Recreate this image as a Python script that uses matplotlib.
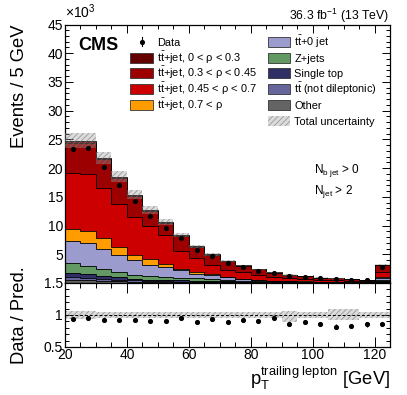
import numpy as np
import matplotlib
matplotlib.use("Agg")
import matplotlib.pyplot as plt
from matplotlib.patches import Rectangle
from matplotlib.lines import Line2D
from matplotlib.ticker import MultipleLocator, FixedLocator, FuncFormatter

plt.rcParams['font.family'] = ['Liberation Sans', 'DejaVu Sans']
plt.rcParams['mathtext.fontset'] = 'custom'
plt.rcParams['mathtext.rm'] = 'Liberation Sans'
plt.rcParams['mathtext.it'] = 'Liberation Sans:italic'
plt.rcParams['mathtext.bf'] = 'Liberation Sans:bold'
plt.rcParams['hatch.linewidth'] = 0.5

# ---------------- data (events in units of 10^3 per 5 GeV bin) ----------------
bin_edges = [20, 25, 30, 35, 40, 45, 50, 55, 60, 65, 70, 75, 80, 85, 90, 95,
             100, 105, 110, 115, 120, 125]
other      = [0.50, 0.45, 0.38, 0.30, 0.25, 0.20, 0.17, 0.15, 0.13, 0.10, 0.09,
              0.07, 0.06, 0.05, 0.04, 0.03, 0.025, 0.02, 0.018, 0.015, 0.10]
tt_notdil  = [0.50, 0.40, 0.32, 0.25, 0.20, 0.15, 0.13, 0.10, 0.09, 0.08, 0.06,
              0.05, 0.04, 0.03, 0.02, 0.02, 0.015, 0.015, 0.012, 0.01, 0.07]
single_top = [0.80, 0.75, 0.60, 0.45, 0.30, 0.25, 0.20, 0.20, 0.18, 0.15, 0.12,
              0.10, 0.07, 0.06, 0.05, 0.04, 0.03, 0.025, 0.02, 0.015, 0.13]
zjets      = [1.60, 1.40, 1.20, 0.90, 0.70, 0.60, 0.50, 0.50, 0.40, 0.32, 0.23,
              0.16, 0.13, 0.10, 0.08, 0.07, 0.06, 0.05, 0.04, 0.03, 0.25]
tt_0jet    = [3.90, 3.90, 3.50, 3.00, 2.50, 2.00, 1.70, 1.25, 0.80, 0.80, 0.50,
              0.32, 0.22, 0.16, 0.12, 0.09, 0.07, 0.06, 0.05, 0.04, 0.40]
ttj_rho4   = [2.10, 2.20, 1.90, 1.40, 0.95, 0.90, 0.60, 0.30, 0.30, 0.10, 0.05,
              0.05, 0.03, 0.02, 0.02, 0.02, 0.01, 0.01, 0.01, 0.01, 0.10]   # 0.7 < rho
ttj_rho3   = [9.80, 9.90, 8.60, 7.40, 6.60, 5.80, 5.00, 3.10, 2.45, 1.52, 1.25,
              1.15, 0.88, 0.68, 0.52, 0.43, 0.34, 0.29, 0.25, 0.20, 0.85]   # 0.45-0.7
ttj_rho2   = [5.25, 5.45, 5.00, 4.55, 3.65, 2.60, 2.12, 2.57, 1.95, 1.85, 1.54,
              1.10, 0.93, 0.72, 0.58, 0.48, 0.385, 0.32, 0.29, 0.22, 1.25]  # 0.3-0.45
ttj_rho1   = [0.35, 0.35, 0.30, 0.25, 0.20, 0.20, 0.18, 0.13, 0.10, 0.08, 0.06,
              0.05, 0.04, 0.03, 0.02, 0.02, 0.015, 0.01, 0.01, 0.01, 0.05]  # 0-0.3
data       = [23.24, 23.45, 20.2, 17.05, 14.21, 11.6, 9.55, 7.85, 5.7, 4.65, 3.5,
              2.8, 2.17, 1.75, 1.25, 1.06, 0.815, 0.656, 0.58, 0.472, 2.76]
unc_up     = [0.055, 0.055, 0.05, 0.05, 0.05, 0.05, 0.045, 0.045, 0.045, 0.045, 0.045,
              0.045, 0.045, 0.045, 0.065, 0.045, 0.045, 0.09, 0.09, 0.045, 0.045]
unc_dn     = [0.055, 0.055, 0.05, 0.05, 0.05, 0.05, 0.045, 0.045, 0.045, 0.045, 0.045,
              0.045, 0.045, 0.045, 0.105, 0.045, 0.045, 0.08, 0.08, 0.045, 0.045]

components = [
    ("Other",                                   other,      "#646464"),
    (r"t$\bar{\rm t}$ (not dileptonic)",        tt_notdil,  "#66669c"),
    ("Single top",                              single_top, "#2f2f66"),
    ("Z+jets",                                  zjets,      "#639a63"),
    (r"t$\bar{\rm t}$+0 jet",                   tt_0jet,    "#9b9bcd"),
    (r"t$\bar{\rm t}$+jet, 0.7 < ρ",            ttj_rho4,   "#ff9c00"),
    (r"t$\bar{\rm t}$+jet, 0.45 < ρ < 0.7",     ttj_rho3,   "#cc0000"),
    (r"t$\bar{\rm t}$+jet, 0.3 < ρ < 0.45",     ttj_rho2,   "#9c0000"),
    (r"t$\bar{\rm t}$+jet, 0 < ρ < 0.3",        ttj_rho1,   "#650000"),
]

edges = np.array(bin_edges, dtype=float)
centers = 0.5 * (edges[:-1] + edges[1:])
data_a = np.array(data)
data_err = np.sqrt(data_a * 1e3) / 1e3

# ---------------- figure ----------------
W, H = 407, 395
fig = plt.figure(figsize=(W / 100, H / 100), dpi=100)
def fx(x): return x / W
def fy(y): return 1 - y / H

ax = fig.add_axes([fx(65), fy(283), fx(390) - fx(65), fy(24.5) - fy(283)])
rx = fig.add_axes([fx(65), fy(347), fx(390) - fx(65), fy(283) - fy(347)])

# stacked histogram
bottom = np.zeros(len(centers))
for name, vals, col in components:
    top = bottom + np.array(vals)
    ax.stairs(top, edges, baseline=bottom, fill=True, facecolor=col, zorder=2)
    ax.stairs(top, edges, baseline=None, color="black", lw=0.6, zorder=3)
    bottom = top
total = bottom

band_kw = dict(fill=True, hatch="//////", facecolor=(0.6, 0.6, 0.6, 0.35),
               edgecolor=(0.45, 0.45, 0.45, 0.75), linewidth=0)
ax.stairs(total * (1 + np.array(unc_up)), edges,
          baseline=total * (1 - np.array(unc_dn)), zorder=4, **band_kw)
ax.errorbar(centers, data_a, yerr=data_err, fmt="o", ms=2.7, color="black",
            elinewidth=0.8, capsize=0, zorder=5)

ax.set_xlim(20, 125)
ax.set_ylim(0, 45)
ax.xaxis.set_major_locator(MultipleLocator(20))
ax.xaxis.set_minor_locator(MultipleLocator(5))
ax.yaxis.set_major_locator(MultipleLocator(5))
ax.yaxis.set_minor_locator(MultipleLocator(1))
ax.yaxis.set_major_formatter(FuncFormatter(lambda v, p: "" if v == 0 else f"{v:g}"))
ax.tick_params(which="both", direction="in", top=True, right=True,
               labelbottom=False, labelsize=10, width=0.7, pad=1.5)
ax.tick_params(which="major", length=6)
ax.tick_params(which="minor", length=3)
ax.set_ylabel("Events / 5 GeV", fontsize=13.2, loc="top")
ax.yaxis.set_label_coords(-0.115, 1.0)
ax.text(0.0, 1.012, r"$\times$10$^{3}$", transform=ax.transAxes, fontsize=10,
        ha="left", va="bottom")

# ratio panel
ratio = data_a / total
ratio_err = data_err / total
rx.stairs(1 + np.array(unc_up), edges, baseline=1 - np.array(unc_dn), zorder=2, **band_kw)
rx.axhline(1.0, color="black", lw=0.7, ls=(0, (3, 2)), zorder=3)
rx.errorbar(centers, ratio, yerr=ratio_err, fmt="o", ms=2.7, color="black",
            elinewidth=0.8, capsize=0, zorder=5)
rx.set_xlim(20, 125)
rx.set_ylim(0.5, 1.5)
rx.xaxis.set_major_locator(MultipleLocator(20))
rx.xaxis.set_minor_locator(MultipleLocator(5))
rx.yaxis.set_major_locator(FixedLocator([0.5, 1.0, 1.5]))
rx.yaxis.set_minor_locator(MultipleLocator(0.1))
rx.yaxis.set_major_formatter(FuncFormatter(lambda v, p: f"{v:g}"))
rx.tick_params(which="both", direction="in", top=True, right=True,
               labelsize=10, width=0.7)
rx.tick_params(axis="y", which="major", length=6, pad=1.5)
rx.tick_params(axis="y", which="minor", length=3)
rx.tick_params(axis="x", which="major", length=7, pad=0.5)
rx.tick_params(axis="x", which="minor", length=3.5)
rx.set_ylabel("Data / Pred.", fontsize=13.2)
rx.yaxis.set_label_coords(-0.115, 0.5)
rx.set_xlabel(r"p$_{\rm T}^{\rm trailing\ lepton}$ [GeV]", fontsize=13.2, loc="right")
rx.xaxis.set_label_coords(1.0, -0.27)

for a in (ax, rx):
    for s in a.spines.values():
        s.set_linewidth(0.9)

# header texts
fig.text(fx(78), fy(50), "CMS", fontsize=13, fontweight="bold", ha="left", va="baseline")
fig.text(fx(389.5), fy(20), r"36.3 fb$^{-1}$ (13 TeV)", fontsize=8.8, ha="right", va="baseline")
ax.text(0.765, 0.425, r"N$_{\rm b\ jet}$ > 0", transform=ax.transAxes, fontsize=8.5)
ax.text(0.765, 0.345, r"N$_{\rm jet}$ > 2", transform=ax.transAxes, fontsize=8.5)

# legend (two columns)
leg_fs = 7.9
rows = [41.7, 57.7, 73.3, 89.0, 104.9, 121.0]
def leg_box(x0, y, col, hatch=None):
    if hatch:
        r = Rectangle((fx(x0), fy(y + 5)), fx(22.5), 10 / H, transform=fig.transFigure,
                      linewidth=0, **{k: v for k, v in band_kw.items()
                                      if k in ("facecolor", "edgecolor")}, hatch=hatch)
    else:
        r = Rectangle((fx(x0), fy(y + 5)), fx(22.5), 10 / H, transform=fig.transFigure,
                      facecolor=col, edgecolor="#333333", linewidth=0.6)
    fig.add_artist(r)
def leg_text(x0, y, s):
    fig.text(fx(x0), fy(y + 4.0), s, fontsize=leg_fs, ha="left", va="baseline")

# left column
fig.add_artist(Line2D([fx(141.5)], [fy(rows[0])], marker="o", ms=2.7, color="black",
                      transform=fig.transFigure))
fig.add_artist(Line2D([fx(141.5), fx(141.5)], [fy(rows[0] - 4.5), fy(rows[0] + 4.5)],
                      color="black", lw=0.8, transform=fig.transFigure))
leg_text(156.7, rows[0], "Data")
left_entries = [components[8], components[7], components[6], components[5]]
for i, (name, vals, col) in enumerate(left_entries):
    leg_box(130, rows[i + 1], col)
    leg_text(156.7, rows[i + 1], name)
right_entries = [components[4], components[3], components[2], components[1], components[0]]
for i, (name, vals, col) in enumerate(right_entries):
    leg_box(267.5, rows[i], col)
    leg_text(294.3, rows[i], name)
leg_box(267.5, rows[5], None, hatch="//////")
leg_text(294.3, rows[5], "Total uncertainty")

fig.savefig("out.png", dpi=100)
